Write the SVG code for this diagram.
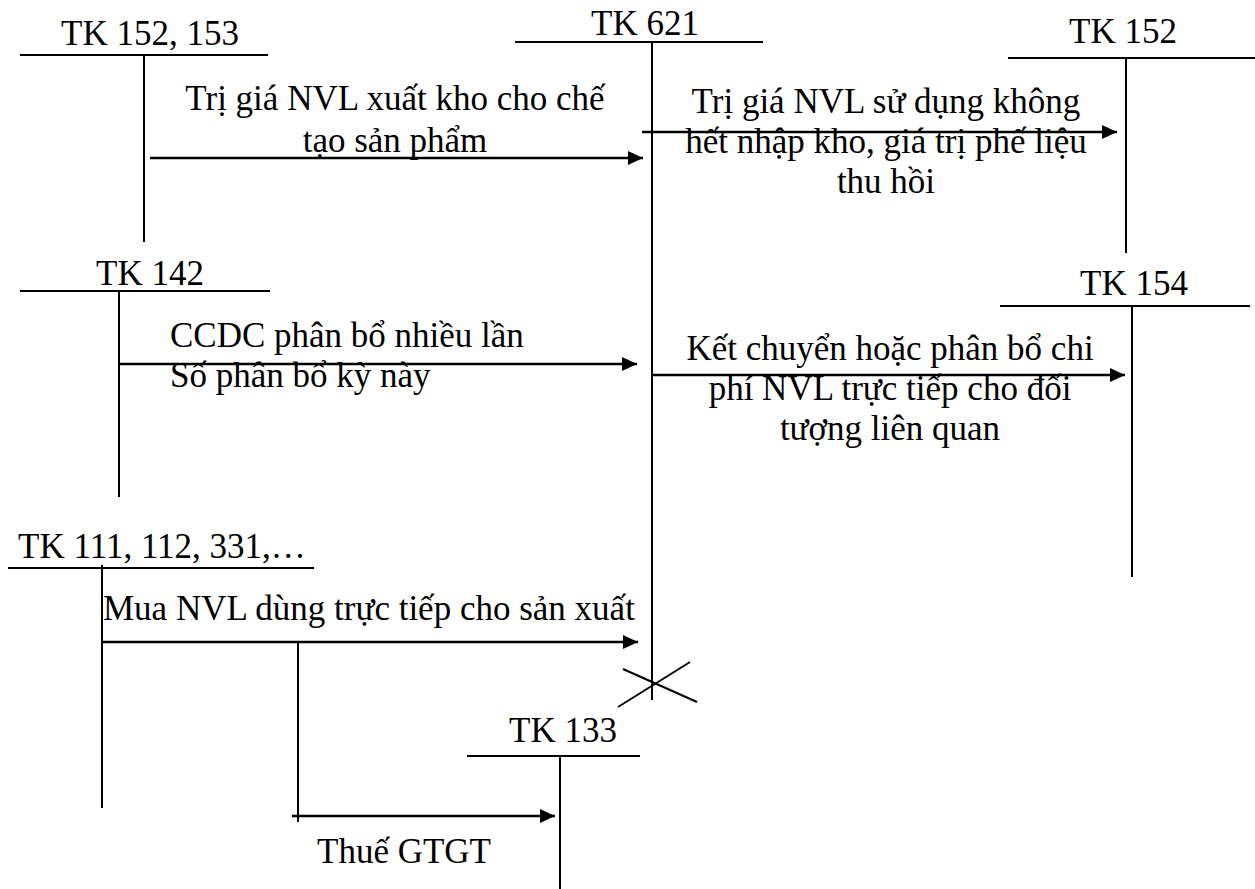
<svg xmlns="http://www.w3.org/2000/svg" width="1255" height="889" viewBox="0 0 1255 889">
<style>
.c{text-anchor:middle}
.t{stroke:#000;stroke-width:2;fill:none}
.a{stroke:#000;stroke-width:2.5;fill:none;marker-end:url(#ah)}
</style>
<defs>
<marker id="ah" markerUnits="userSpaceOnUse" markerWidth="16" markerHeight="14" refX="15" refY="7" orient="auto"><path d="M0,0 L15,7 L0,14 z" fill="#000"/></marker>
</defs>
<rect width="1255" height="889" fill="#fff"/>
<g id="tk152_153">
<text class="c" font-family="Liberation Serif" font-size="35" x="150" y="45">TK 152, 153</text>
<line class="t" x1="20" y1="55" x2="268" y2="55"/>
<line class="t" x1="144" y1="55" x2="144" y2="242"/>
</g>
<g id="tk621">
<text class="c" font-family="Liberation Serif" font-size="35" x="645" y="35">TK 621</text>
<line class="t" x1="515" y1="42" x2="763" y2="42"/>
<line class="t" x1="652" y1="42" x2="652" y2="700"/>
<line class="t" x1="618" y1="707" x2="690" y2="662"/>
<line class="t" x1="623" y1="669" x2="697" y2="702"/>
</g>
<g id="tk152">
<text class="c" font-family="Liberation Serif" font-size="35" x="1123" y="43">TK 152</text>
<line class="t" x1="1008" y1="58" x2="1255" y2="58"/>
<line class="t" x1="1126" y1="58" x2="1126" y2="253"/>
</g>
<g id="tk142">
<text class="c" font-family="Liberation Serif" font-size="35" x="150" y="285">TK 142</text>
<line class="t" x1="20" y1="291" x2="270" y2="291"/>
<line class="t" x1="119" y1="291" x2="119" y2="497"/>
</g>
<g id="tk154">
<text class="c" font-family="Liberation Serif" font-size="35" x="1134" y="295">TK 154</text>
<line class="t" x1="1000" y1="306" x2="1250" y2="306"/>
<line class="t" x1="1132" y1="306" x2="1132" y2="577"/>
</g>
<g id="tk111">
<text class="c" font-family="Liberation Serif" font-size="35" x="162" y="558">TK 111, 112, 331,…</text>
<line class="t" x1="8" y1="568" x2="314" y2="568"/>
<line class="t" x1="102" y1="565" x2="102" y2="808"/>
</g>
<g id="tk133">
<text class="c" font-family="Liberation Serif" font-size="35" x="563" y="742">TK 133</text>
<line class="t" x1="467" y1="756" x2="640" y2="756"/>
<line class="t" x1="560" y1="756" x2="560" y2="889"/>
</g>
<g id="connectors">
<line class="a" x1="150" y1="158" x2="643" y2="158"/>
<text class="c" font-family="Liberation Serif" font-size="35" x="395" y="110">Trị giá NVL xuất kho cho chế</text>
<text class="c" font-family="Liberation Serif" font-size="35" x="395" y="152">tạo sản phẩm</text>
<line class="a" x1="642" y1="132" x2="1117" y2="132"/>
<text class="c" font-family="Liberation Serif" font-size="35" x="886" y="113">Trị giá NVL sử dụng không</text>
<text class="c" font-family="Liberation Serif" font-size="35" x="886" y="153">hết nhập kho, giá trị phế liệu</text>
<text class="c" font-family="Liberation Serif" font-size="35" x="886" y="193">thu hồi</text>
<line class="a" x1="119" y1="364" x2="637" y2="364"/>
<text font-family="Liberation Serif" font-size="35" x="170" y="347">CCDC phân bổ nhiều lần</text>
<text font-family="Liberation Serif" font-size="35" x="170" y="387">Số phân bổ kỳ này</text>
<line class="a" x1="652" y1="375" x2="1125" y2="375"/>
<text class="c" font-family="Liberation Serif" font-size="35" x="890" y="360">Kết chuyển hoặc phân bổ chi</text>
<text class="c" font-family="Liberation Serif" font-size="35" x="890" y="400">phí NVL trực tiếp cho đối</text>
<text class="c" font-family="Liberation Serif" font-size="35" x="890" y="440">tượng liên quan</text>
<line class="a" x1="102" y1="642" x2="638" y2="642"/>
<text font-family="Liberation Serif" font-size="35" x="103" y="620">Mua NVL dùng trực tiếp cho sản xuất</text>
<line class="t" x1="298" y1="642" x2="298" y2="822"/>
<line class="a" x1="292" y1="816" x2="555" y2="816"/>
<text class="c" font-family="Liberation Serif" font-size="35" x="404" y="863">Thuế GTGT</text>
</g>
</svg>
